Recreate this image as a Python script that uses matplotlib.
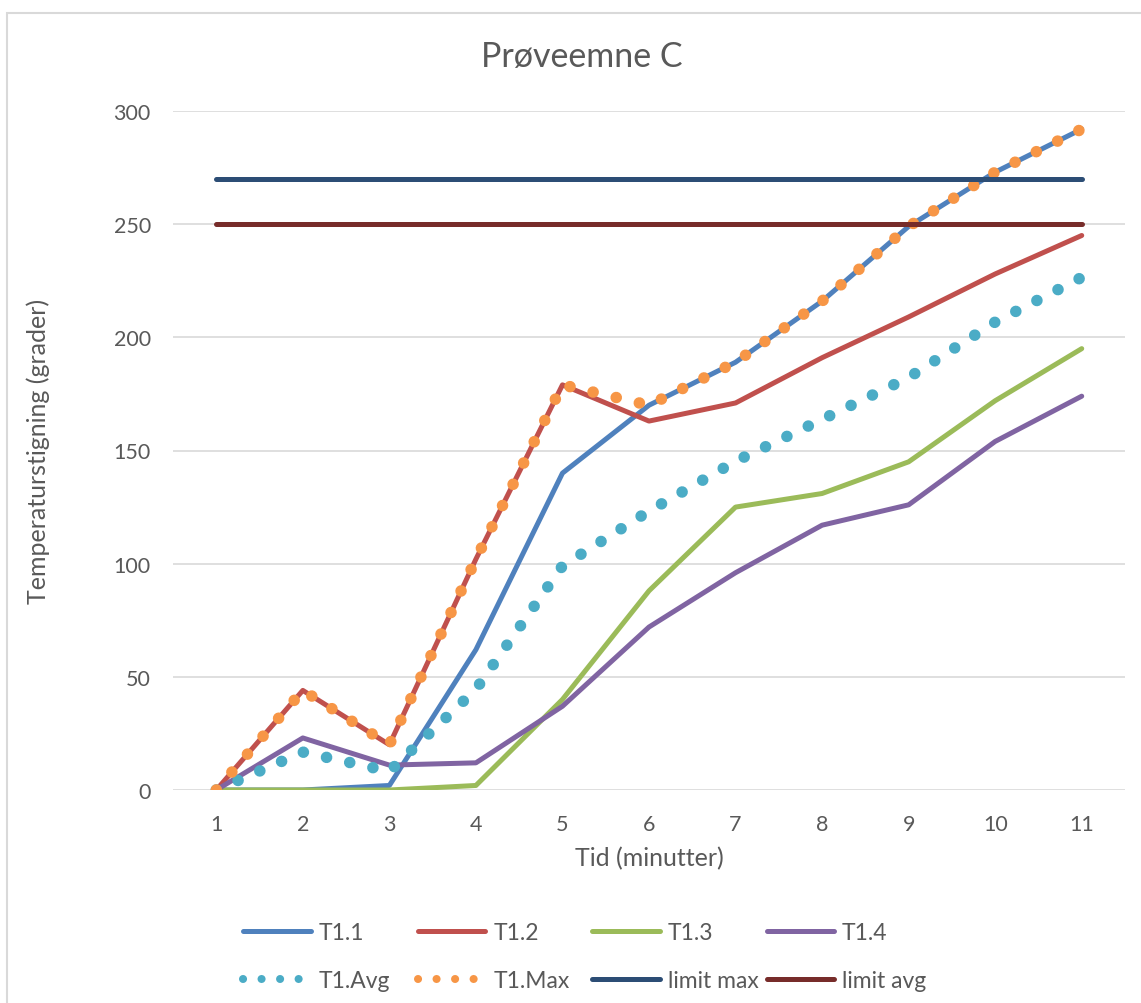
import matplotlib
matplotlib.use("Agg")
import matplotlib.pyplot as plt
from matplotlib.lines import Line2D
from matplotlib.patches import Rectangle

plt.rcParams['font.family'] = ['Lato', 'DejaVu Sans']

# temperaturdata, minutt 1-11
tid = [1, 2, 3, 4, 5, 6, 7, 8, 9, 10, 11]
t11 = [0, 0, 2, 62, 140, 170, 189, 216, 249, 273, 292]
t12 = [0, 44, 20, 102, 179, 163, 171, 191, 209, 228, 245]
t13 = [0, 0, 0, 2, 40, 88, 125, 131, 145, 172, 195]
t14 = [0, 23, 11, 12, 37, 72, 96, 117, 126, 154, 174]
t1_avg = [0, 16.75, 8.25, 44.5, 99, 123.25, 145.25, 163.75, 182.25, 206.75, 226.5]
t1_max = [0, 44, 20, 102, 179, 170, 189, 216, 249, 273, 292]
limit_max = [270] * 11
limit_avg = [250] * 11

tekst = '#595959'
W, H = 1141, 1004
fig = plt.figure(figsize=(W / 100, H / 100), dpi=100)
ax = fig.add_axes([173 / W, 1 - 791 / H, (1125 - 173) / W, (791 - 112) / H])

solid = dict(lw=3.6, solid_capstyle='round', solid_joinstyle='round')
dots = dict(lw=8.3, linestyle=(0, (0.01, 2.05)), dash_capstyle='round')

ax.plot(tid, t11, color='#4F81BD', **solid)
ax.plot(tid, t12, color='#C0504D', **solid)
ax.plot(tid, t13, color='#9BBB59', **solid)
ax.plot(tid, t14, color='#8064A2', **solid)
ax.plot(tid, t1_avg, color='#4BACC6', **dots)
ax.plot(tid, t1_max, color='#F79646', **dots)
ax.plot(tid, limit_max, color='#2C4D75', **solid)
ax.plot(tid, limit_avg, color='#772C2A', **solid)

ax.set_xlim(0.5, 11.5)
ax.set_ylim(0, 300)
ax.set_xticks(tid)
ax.set_yticks(range(0, 301, 50))
ax.grid(axis='y', color='#D9D9D9', lw=1.2)
ax.set_axisbelow(True)
for s in ax.spines.values():
    s.set_visible(False)
ax.tick_params(length=0, labelsize=15.5, labelcolor=tekst)
ax.tick_params(axis='x', pad=17)
ax.tick_params(axis='y', pad=16)

fig.text(582 / W, 1 - 57 / H, 'Prøveemne C', ha='center', va='center',
         fontsize=24.5, color=tekst)
fig.text(649 / W, 1 - 859 / H, 'Tid (minutter)', ha='center', va='center',
         fontsize=18, color=tekst)
fig.text(38 / W, 1 - 451 / H, 'Temperaturstigning (grader)', ha='center',
         va='center', rotation=90, fontsize=18, color=tekst)

# tegnforklaring: fire kolonner med fast avstand
def linje(c):
    return Line2D([], [], color=c, lw=3.6, solid_capstyle='round')

def prikker(c):
    return Line2D([], [], color=c, lw=5.8, linestyle=(0, (0.01, 2.29)),
                  dash_capstyle='round')

kolonner = [
    ([linje('#4F81BD'), prikker('#4BACC6')], ['T1.1', 'T1.Avg']),
    ([linje('#C0504D'), prikker('#F79646')], ['T1.2', 'T1.Max']),
    ([linje('#9BBB59'), linje('#2C4D75')], ['T1.3', 'limit max']),
    ([linje('#8064A2'), linje('#772C2A')], ['T1.4', 'limit avg']),
]
for i, (h, l) in enumerate(kolonner):
    x0 = 243 + i * 174.5
    fig.legend(h, l, loc='center left', frameon=False,
               bbox_to_anchor=(x0 / W, 1 - 957.5 / H), fontsize=16.5,
               labelcolor=tekst, handlelength=2.95, handletextpad=0.35,
               labelspacing=1.2, borderpad=0, borderaxespad=0)

fig.add_artist(Rectangle((7 / W, -0.1), 1.2, 1.1 - 14 / H, transform=fig.transFigure,
                         fill=False, edgecolor='#D9D9D9', lw=1.5))

fig.savefig('out.png', dpi=100)
